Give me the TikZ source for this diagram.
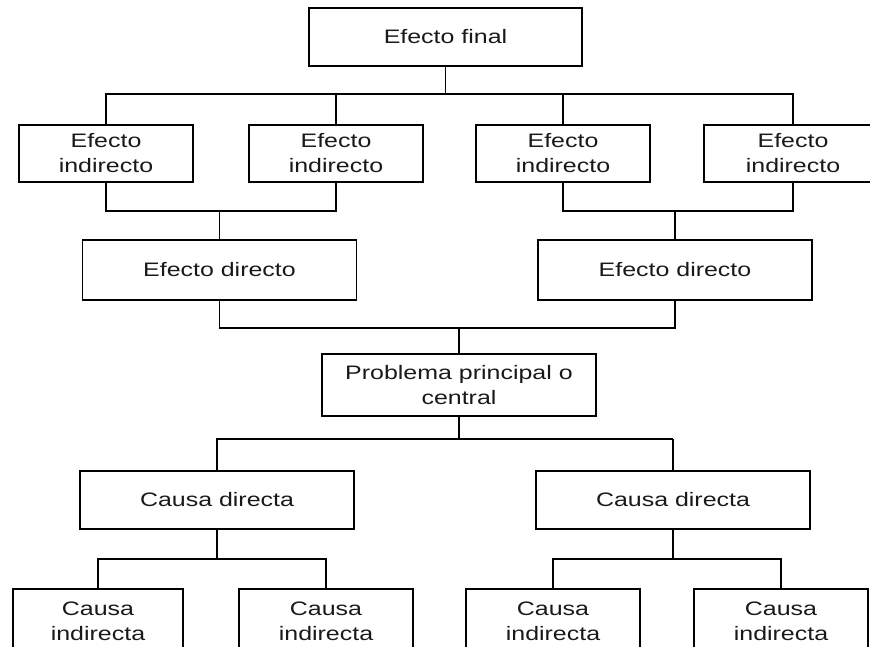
\documentclass[tikz,border=0pt]{standalone}
\usepackage{fontspec}
\setmainfont{Liberation Sans}[FakeStretch=1.28]
\usetikzlibrary{calc}
\tikzset{
  box/.style={draw, line width=1.7pt, inner sep=0pt, align=center,
    font=\fontsize{19.5}{25}\selectfont, text=black!90},
  wide/.style={box, minimum width=274pt, minimum height=59pt},
  narrow/.style={box, minimum width=174pt, minimum height=57pt},
  link/.style={line width=1.8pt},
  thinlink/.style={line width=1.1pt},
}
\begin{document}
\begin{tikzpicture}[x=1pt, y=-1pt, line join=miter]
\path[use as bounding box] (0,0) rectangle (870,646);
\clip (0,0) rectangle (870,646);

% effects
\node[wide, minimum width=273pt, minimum height=58pt] (fin) at (445.5,37) {Efecto final};
\node[narrow] (ei1) at (106,153.5) {Efecto\\indirecto};
\node[narrow] (ei2) at (336,153.5) {Efecto\\indirecto};
\node[narrow] (ei3) at (563,153.5) {Efecto\\indirecto};
\node[narrow, minimum width=178pt] (ei4) at (793,153.5) {Efecto\\indirecto};
\node[wide, minimum height=60pt] (ed1) at (219.5,270) {Efecto directo};
\node[wide, minimum height=60pt] (ed2) at (675,270) {Efecto directo};

% central problem
\node[wide, minimum height=62pt] (pp) at (459,385) {Problema principal o\\central};

% causes
\node[wide, minimum height=58pt] (cd1) at (217,500) {Causa directa};
\node[wide, minimum height=58pt] (cd2) at (673,500) {Causa directa};
\node[narrow, minimum width=170pt, minimum height=64pt] (ci1) at (98,621) {Causa\\indirecta};
\node[narrow, minimum height=64pt] (ci2) at (326,621) {Causa\\indirecta};
\node[narrow, minimum height=64pt] (ci3) at (553,621) {Causa\\indirecta};
\node[narrow, minimum height=64pt] (ci4) at (781,621) {Causa\\indirecta};

% bus levels
\coordinate (b1) at (0,94);
\coordinate (b2) at (0,211);
\coordinate (b3) at (0,328);
\coordinate (b4) at (0,439);
\coordinate (b5) at (0,559);

% final effect to indirect effects
\draw[link] (ei1.north) -- (ei1.north |- b1) -- (ei4.north |- b1) -- (ei4.north);
\draw[link] (fin.south) -- (fin.south |- b1);
\draw[link] (ei2.north) -- (ei2.north |- b1);
\draw[link] (ei3.north) -- (ei3.north |- b1);

% indirect effects to direct effects
\draw[link] (ei1.south) -- (ei1.south |- b2) -- (ei2.south |- b2) -- (ei2.south);
\draw[thinlink] (ed1.north) -- (ed1.north |- b2);
\draw[link] (ei3.south) -- (ei3.south |- b2) -- (ei4.south |- b2) -- (ei4.south);
\draw[thinlink] (ed2.north) -- (ed2.north |- b2);

% direct effects to central problem
\draw[thinlink] (ed1.south) -- (ed1.south |- b3) -- (ed2.south |- b3) -- (ed2.south);
\draw[link] (pp.north) -- (pp.north |- b3);

% central problem to direct causes
\draw[thinlink] (cd1.north) -- (cd1.north |- b4) -- (cd2.north |- b4);
\draw[link] (cd2.north) -- (cd2.north |- b4);
\draw[link] (pp.south) -- (pp.south |- b4);

% direct causes to indirect causes
\draw[thinlink] (cd1.south) -- (cd1.south |- b5);
\draw[link] (ci1.north) -- (ci1.north |- b5) -- (ci2.north |- b5) -- (ci2.north);
\draw[link] (cd2.south) -- (cd2.south |- b5);
\draw[link] (ci3.north) -- (ci3.north |- b5) -- (ci4.north |- b5) -- (ci4.north);
\end{tikzpicture}
\end{document}
